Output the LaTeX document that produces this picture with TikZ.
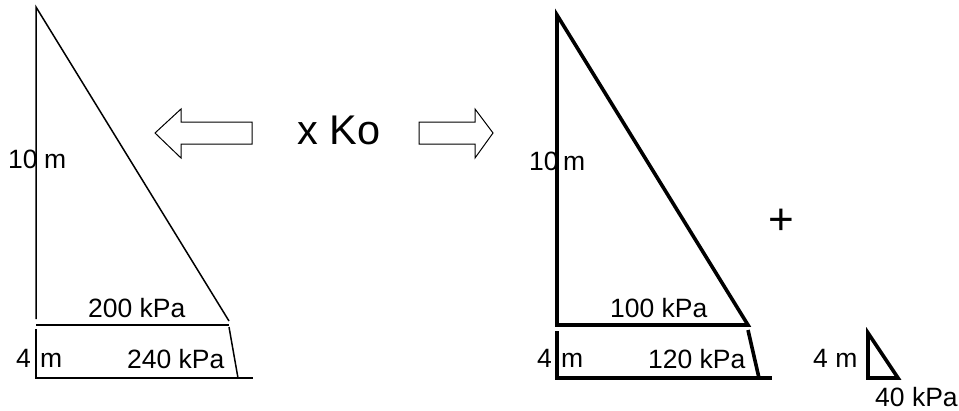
\documentclass[tikz,border=0pt]{standalone}
\usepackage{fontspec}
\setmainfont{Liberation Sans}
\begin{document}
\begin{tikzpicture}[x=1pt,y=-1pt,
  thin line/.style={line width=1.5pt, line join=miter},
  thick line/.style={line width=3.6pt, line join=miter},
  lbl/.style={inner sep=0pt, anchor=base west, font=\fontsize{26.5}{30}\selectfont},
  block arrow/.style={draw, line width=1pt, fill=white, line join=miter}]
\useasboundingbox (0,0) rectangle (959,410);
% ---------- left diagram ----------
\coordinate (LT) at (36,7);
\coordinate (LB1) at (36,319);
\coordinate (LH) at (229,321);
\draw[thin line] (LB1) -- (LT) -- (LH);
\coordinate (L200a) at (36,325);
\coordinate (L200b) at (229,325);
\draw[thin line] (L200a) -- (L200b);
\coordinate (LV2a) at (36,329);
\coordinate (LV2b) at (36,378);
\coordinate (LBr) at (253,378);
\draw[thin line] (LV2a) -- (LV2b) -- (LBr);
\coordinate (LSa) at (229,327);
\coordinate (LSb) at (238,378);
\draw[thin line] (LSa) -- (LSb);
\node[lbl] (l10) at (8,168) {10};
\node[lbl] (l10m) at (44,168) {m};
\node[lbl] (l200) at (88,317) {200 kPa};
\node[lbl] (l4) at (16,367) {4};
\node[lbl] (l4m) at (40,367) {m};
\node[lbl] (l240) at (127,368) {240 kPa};
% ---------- arrows and factor ----------
\draw[block arrow] (155,133) -- (181,109) -- (181,122) -- (252,122) -- (252,144) -- (181,144) -- (181,158) -- cycle;
\draw[block arrow] (493,133) -- (475,109) -- (475,122) -- (419,122) -- (419,144) -- (475,144) -- (475,158) -- cycle;
\node[inner sep=0pt, anchor=base west, font=\fontsize{41.5}{46}\selectfont] (ko) at (297,144) {x Ko};
% ---------- right diagram ----------
\coordinate (RT) at (557,15);
\coordinate (RB1) at (557,325);
\coordinate (RH) at (748,325);
\draw[thick line] (RH) -- (RT) -- (RB1) -- cycle;
\coordinate (RV2a) at (557,331);
\coordinate (RV2b) at (557,378);
\coordinate (RBr) at (772,378);
\draw[thick line] (RV2a) -- (RV2b) -- (RBr);
\coordinate (RSa) at (748,330);
\coordinate (RSb) at (759,378);
\draw[thick line] (RSa) -- (RSb);
\node[lbl] (r10) at (529,170) {10};
\node[lbl] (r10m) at (563,170) {m};
\node[lbl] (r100) at (610,317) {100 kPa};
\node[lbl] (r4) at (537,367) {4};
\node[lbl] (r4m) at (561,367) {m};
\node[lbl] (r120) at (648,368) {120 kPa};
\node[inner sep=0pt, font=\fontsize{44}{48}\selectfont] (plus) at (781,222) {+};
% ---------- small triangle ----------
\coordinate (ST) at (868,333);
\coordinate (SB) at (868,378);
\coordinate (SR) at (898,378);
\draw[thick line] (ST) -- (SB) -- (SR) -- cycle;
\node[lbl] (s4m) at (813,367) {4 m};
\node[lbl] (s40) at (875,406) {40 kPa};
\end{tikzpicture}
\end{document}
